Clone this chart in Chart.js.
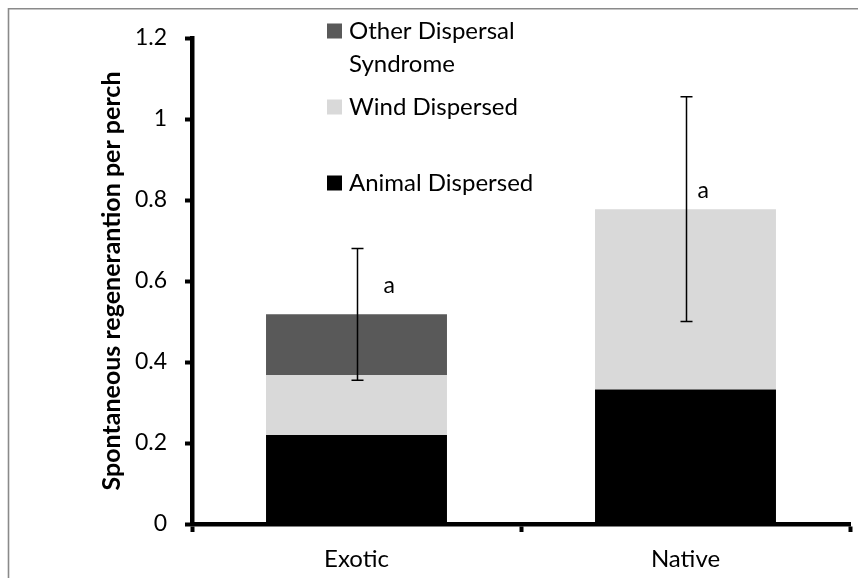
<!DOCTYPE html>
<html>
<head>
<meta charset="utf-8">
<script src="https://cdn.jsdelivr.net/npm/chart.js@4.4.1/dist/chart.umd.min.js"></script>
<style>
  body { margin: 0; background: #fff; }
  #wrap { width: 858px; height: 578px; }
</style>
</head>
<body>
<div id="wrap"><canvas id="chart" width="858" height="578"></canvas></div>
<script>
// values
const categories = ['Exotic', 'Native'];
const animal = [0.22, 0.332];
const wind = [0.148, 0.445];
const other = [0.15, 0];
const errLow = [0.355, 0.50];
const errHigh = [0.68, 1.055];
const letters = ['a', 'a'];

const FONT = 'Lato';

// grey frame round the figure (only top and left are visible)
const framePlugin = {
  id: 'frame',
  beforeDraw(chart) {
    const c = chart.ctx;
    c.save();
    c.strokeStyle = '#8a8a8a';
    c.lineWidth = 1.6;
    c.beginPath();
    c.moveTo(8.5, chart.height);
    c.lineTo(8.5, 8.8);
    c.lineTo(chart.width, 8.8);
    c.stroke();
    c.restore();
  }
};

// error bars + significance letters
const errorPlugin = {
  id: 'errbars',
  afterDatasetsDraw(chart, args, opts) {
    const c = chart.ctx;
    const xs = chart.scales.x, ys = chart.scales.y;
    c.save();
    c.strokeStyle = '#000';
    c.lineWidth = 1.5;
    c.fillStyle = '#000';
    c.font = '23px ' + FONT;
    c.textAlign = 'left';
    c.textBaseline = 'middle';
    categories.forEach((cat, i) => {
      const x = Math.round(xs.getPixelForValue(i)) + 0.5;
      const yTop = ys.getPixelForValue(errHigh[i]);
      const yBot = ys.getPixelForValue(errLow[i]);
      c.beginPath();
      c.moveTo(x, yTop); c.lineTo(x, yBot);
      c.moveTo(x - 6, yTop); c.lineTo(x + 6, yTop);
      c.moveTo(x - 6, yBot); c.lineTo(x + 6, yBot);
      c.stroke();
      const l = opts.letters[i];
      c.fillText(letters[i], x + l.dx, ys.getPixelForValue(l.at));
    });
    c.restore();
  }
};

// legend drawn inside the plot, top entry = top of stack
const legendPlugin = {
  id: 'insideLegend',
  afterDraw(chart, args, opts) {
    const c = chart.ctx;
    c.save();
    c.font = opts.size + 'px ' + FONT;
    c.textBaseline = 'middle';
    c.textAlign = 'left';
    const sets = chart.data.datasets.slice().reverse();
    sets.forEach((ds, k) => {
      const yc = opts.rows[k];
      c.fillStyle = ds.backgroundColor;
      c.fillRect(opts.x, yc - 7.5, 15, 15);
      c.fillStyle = '#000';
      // wrap long labels
      const words = ds.label.split(' ');
      let lines = [], line = '';
      words.forEach(w => {
        const t = line ? line + ' ' + w : w;
        if (c.measureText(t).width > opts.maxWidth && line) { lines.push(line); line = w; }
        else line = t;
      });
      lines.push(line);
      lines.forEach((ln, j) => c.fillText(ln, opts.x + 22, yc + j * opts.lineGap));
    });
    c.restore();
  }
};

const ctx = document.getElementById('chart').getContext('2d');
const chart = new Chart(ctx, {
  type: 'bar',
  data: {
    labels: categories,
    datasets: [
      { label: 'Animal Dispersed', data: animal, backgroundColor: '#000000' },
      { label: 'Wind Dispersed', data: wind, backgroundColor: '#d9d9d9' },
      { label: 'Other Dispersal Syndrome', data: other, backgroundColor: '#595959' }
    ]
  },
  plugins: [framePlugin, errorPlugin, legendPlugin],
  options: {
    responsive: false,
    animation: false,
    layout: { padding: { left: 97, top: 38, right: 8, bottom: 0 } },
    datasets: { bar: { categoryPercentage: 1, barPercentage: 0.55, borderWidth: 0 } },
    plugins: {
      legend: { display: false },
      tooltip: { enabled: false },
      errbars: { letters: [{ dx: 26, at: 0.588 }, { dx: 11, at: 0.824 }] },
      insideLegend: { x: 327, rows: [31, 107, 183], size: 24, lineGap: 33.5, maxWidth: 190 }
    },
    scales: {
      x: {
        stacked: true,
        grid: { display: true, drawOnChartArea: false, drawTicks: true, tickLength: 8, tickWidth: 4, tickColor: '#000', offset: true },
        border: { display: true, color: '#000', width: 4.5 },
        ticks: { color: '#000', font: { family: FONT, size: 24 }, padding: 13 },
        afterFit: s => { s.height = 54; }
      },
      y: {
        stacked: true,
        min: 0,
        max: 1.2,
        grid: { display: true, drawOnChartArea: false, drawTicks: true, tickLength: 7, tickWidth: 4, tickColor: '#000' },
        border: { display: true, color: '#000', width: 4.5 },
        ticks: {
          stepSize: 0.2,
          color: '#000',
          font: { family: FONT, size: 23 },
          padding: 18,
          callback: (val) => String(+val.toFixed(1))
        },
        title: {
          display: true,
          text: 'Spontaneous regenerantion per perch',
          color: '#000',
          font: { family: FONT, size: 25, weight: 'bold' },
          padding: 0
        },
        afterFit: s => { s.width = 95; }
      }
    }
  }
});
</script>
</body>
</html>
